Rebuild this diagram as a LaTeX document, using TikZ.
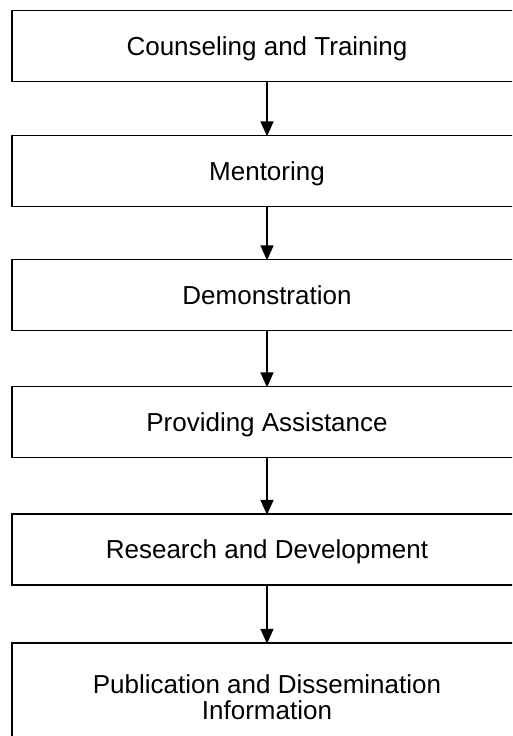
\documentclass[tikz,border=0pt]{standalone}
\usepackage{fontspec}
\setmainfont{Liberation Sans}
\usetikzlibrary{arrows.meta}
\begin{document}
\begin{tikzpicture}[x=1pt,y=-1pt,
  stagebox/.style={rectangle,
    minimum width=510pt,minimum height=70.5pt,inner sep=0pt,
    font=\fontsize{26}{26}\selectfont,
    text height=18.6pt,text depth=0pt,align=center},
  frame/.style={draw=black,line width=1.6pt},
  flow/.style={draw=black,line width=1.6pt,
    -{Triangle[length=15pt,width=13pt]},shorten >=-0.8pt}]
  % canvas, cut at the page edges
  \useasboundingbox (0,0) rectangle (512,736);
  \clip (0,0) rectangle (512,736);
  \fill[white] (0,0) rectangle (512,736);

  % chain of activities
  \node[stagebox] (s1) at (267,46)    {Counseling and Training};
  \node[stagebox] (s2) at (267,171)   {Mentoring};
  \node[stagebox] (s3) at (267,295)   {Demonstration};
  \node[stagebox] (s4) at (267,422)   {Providing Assistance};
  \node[stagebox] (s5) at (267,549.5) {Research and Development};
  \node[stagebox,minimum height=108pt,text height=44.6pt,anchor=north]
       (s6) at (267,643) {Publication and Dissemination\\Information};

  % box outlines, running past the right page edge
  \foreach \s in {s1,s2,s3,s4,s5,s6}
    \draw[frame] (\s.north west) rectangle ([xshift=40pt]\s.south east);

  % connectors
  \draw[flow] (s1.south) -- (s2.north);
  \draw[flow] (s2.south) -- (s3.north);
  \draw[flow] (s3.south) -- (s4.north);
  \draw[flow] (s4.south) -- (s5.north);
  \draw[flow] (s5.south) -- (s6.north);
\end{tikzpicture}
\end{document}
